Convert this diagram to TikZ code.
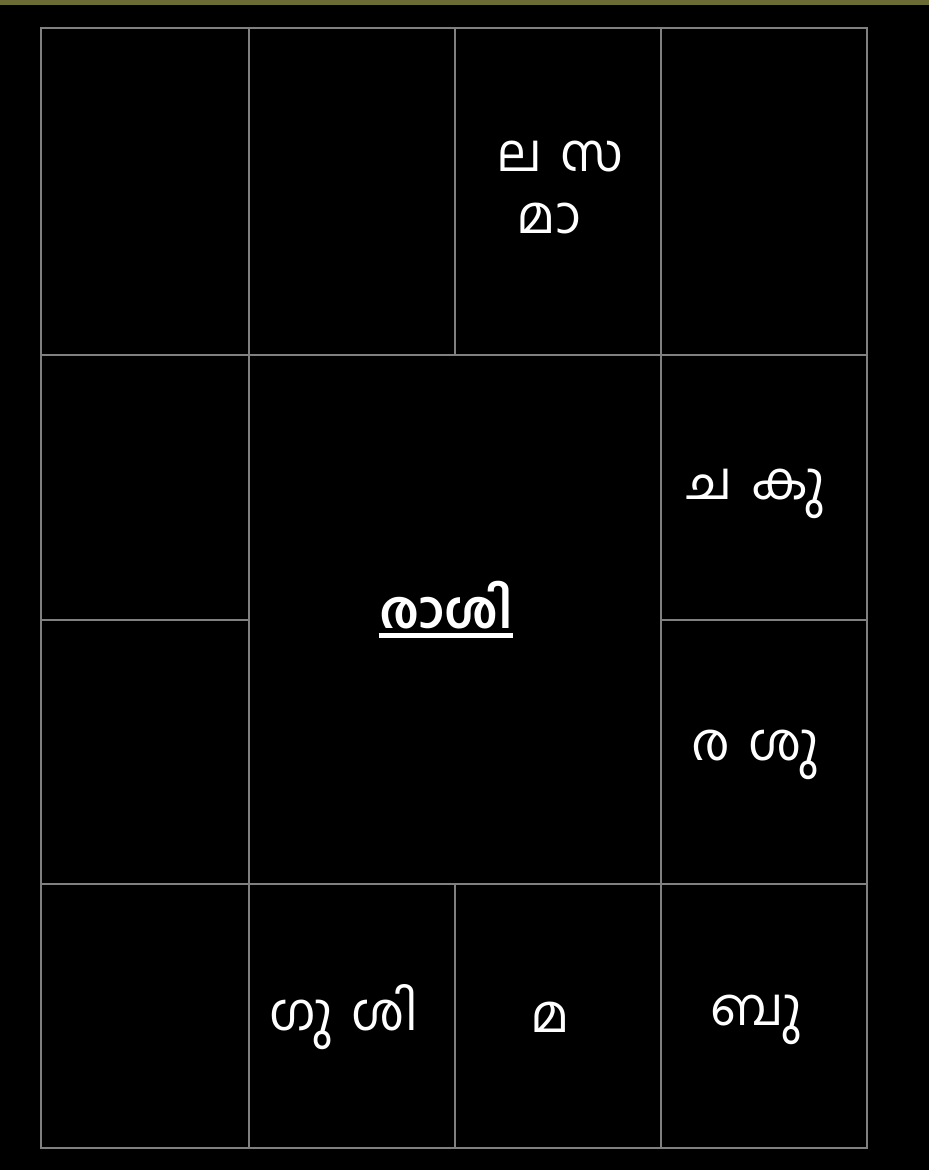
\documentclass[tikz,border=0pt]{standalone}
\usepackage{fontspec}
\newfontfamily\mlfont[Script=Malayalam]{Hind Kochi}
\definecolor{olive}{HTML}{6B6B35}
\definecolor{gridgray}{HTML}{808080}
\tikzset{
  cell/.style={draw=gridgray, line width=2pt},
  lbl/.style={text=white, font=\mlfont\fontsize{39}{46}\selectfont, inner sep=0pt},
  title/.style={text=white, font=\mlfont\bfseries\fontsize{39}{46}\selectfont, inner sep=0pt},
  uline/.style={draw=white, line width=3.6pt}
}
\newcommand{\gp}{\hspace{0.35em}}
\begin{document}
\begin{tikzpicture}[x=0.75pt,y=-0.75pt]
\fill[black] (0,0) rectangle (929,1170);
\useasboundingbox (0,0) rectangle (929,1170);
\fill[olive] (0,0) rectangle (929,5);
% grid
\draw[cell] (41,28) rectangle (867,1148);
\draw[cell] (41,355) -- (867,355);
\draw[cell] (41,884) -- (867,884);
\draw[cell] (249,28) -- (249,1148);
\draw[cell] (661,28) -- (661,1148);
\draw[cell] (455,28) -- (455,355);
\draw[cell] (455,884) -- (455,1148);
\draw[cell] (41,620) -- (249,620);
\draw[cell] (661,620) -- (867,620);
% labels
\node[lbl] (ls) at (560,157) {ല\gp സ};
\node[lbl] (ma) at (549,218) {മാ};
\node[title, anchor=base] (rasi) at (446,628) {രാശി};
\draw[uline] ([yshift=-5.5pt]rasi.base west) -- ([yshift=-5.5pt]rasi.base east);
\node[lbl] (ck) at (756,494) {ച\gp കു};
\node[lbl] (rs) at (755,755) {ര\gp ശു};
\node[lbl] (gs) at (344,1017) {ഗു\gp ശി};
\node[lbl] (m) at (550,1017) {മ};
\node[lbl] (bu) at (756,1020) {ബു};
\end{tikzpicture}
\end{document}
